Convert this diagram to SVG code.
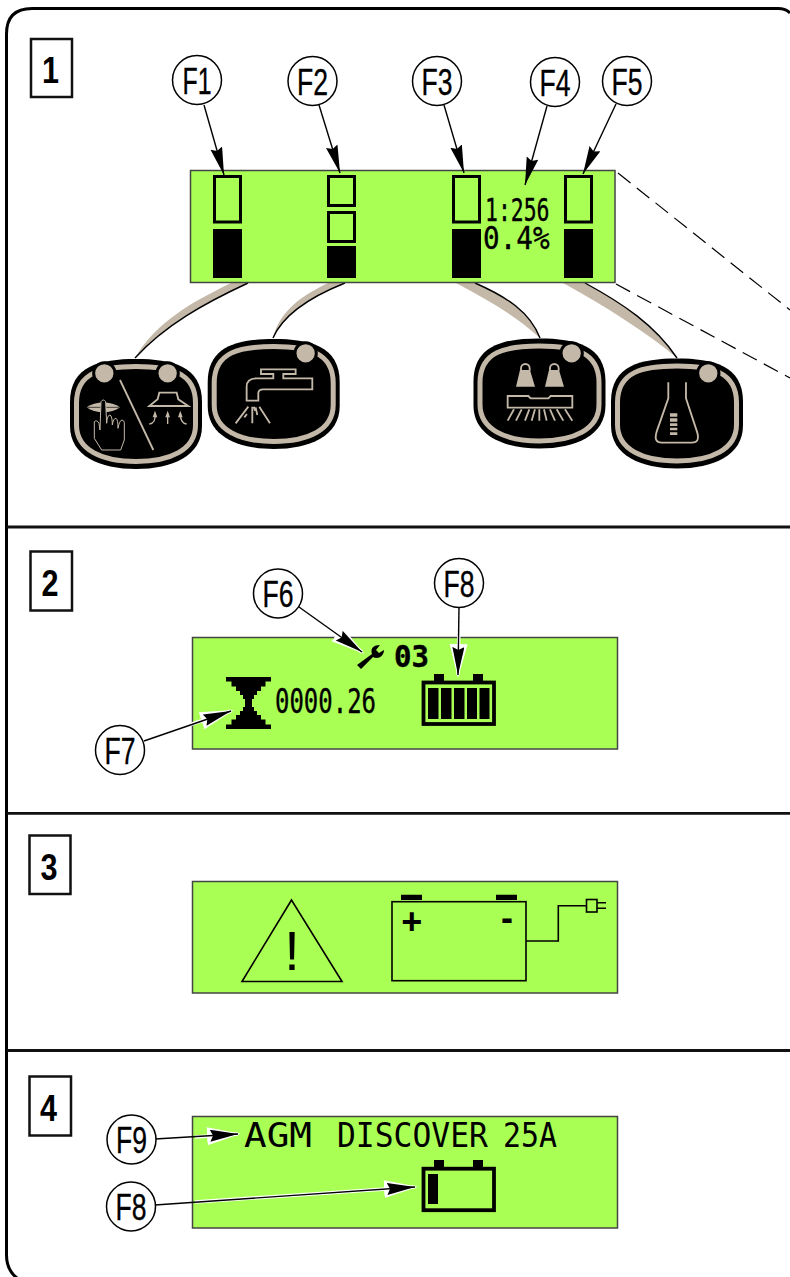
<svg xmlns="http://www.w3.org/2000/svg" width="790" height="1277" viewBox="0 0 790 1277">
<style>
.frame{fill:none;stroke:#000;stroke-width:3}
.div{stroke:#111;stroke-width:2.8}
.box{fill:#fff;stroke:#111;stroke-width:2.500}
.num{font:bold 37px "Liberation Sans",Arial,sans-serif;fill:#000;text-anchor:middle}
.lcd{fill:#aaff55;stroke:#444;stroke-width:1.5}
.badge{fill:#fff;stroke:#000;stroke-width:1.5}
.lab{font:37px "Liberation Sans",Arial,sans-serif;fill:#000;stroke:#000;stroke-width:.35;text-anchor:middle}
.ldr{fill:none;stroke:#000;stroke-width:1.4;marker-end:url(#ah)}
.halo{fill:none;stroke:#fff;stroke-width:3.5;marker-end:url(#ahw)}
.px{font-family:"DejaVu Sans Mono","Liberation Mono",monospace;fill:#000;stroke:#000;stroke-width:.4}
.thin{stroke-width:0}
.bar{fill:none;stroke:#000;stroke-width:3}
.batt{fill:none;stroke:#000;stroke-width:3.800}
.dash{fill:none;stroke:#000;stroke-width:1.2;stroke-dasharray:16 8}
.tail{fill:#c4b9a9}
.edge{fill:none;stroke:#000;stroke-width:1.4}
.bg{fill:#000}
.ring{fill:none;stroke:#c4b9a9;stroke-width:5}
.dot{fill:#c4b9a9;stroke:#000;stroke-width:9}
.ico{fill:none;stroke:#c4b9a9;stroke-width:5.500}
.ico4{fill:none;stroke:#c4b9a9;stroke-width:4}
.fil{fill:#c4b9a9}
.l3{fill:none;stroke:#000;stroke-width:1.6}
</style>
<defs>
<marker id="ah" markerUnits="userSpaceOnUse" markerWidth="30" markerHeight="14" refX="28" refY="6" orient="auto"><path d="M0 0L28 6L0 12L3 6Z" fill="#000"/></marker>
<marker id="ahw" markerUnits="userSpaceOnUse" markerWidth="38" markerHeight="20" refX="31" refY="9" orient="auto"><path d="M0 0L34 9L0 18Z" fill="#fff"/></marker>
<path id="outer" d="M0-55C36-55 66-48 66-12V12C66 42 36 55 0 55S-66 42-66 12V-12C-66-48-36-55 0-55Z"/>
<path id="inner" d="M0-47.500C34-47.500 59.500-42 59.500-11V11C59.500 36 34 47.500 0 47.500S-59.500 36-59.500 11V-11C-59.500-42-34-47.500 0-47.500Z"/>
</defs>

<g id="frame">
<path class="frame" d="M790 13Q786 8.500 778 8.500H32Q6.500 8.500 6.500 34V1255Q6.500 1270 17 1278"/>
<path class="div" d="M7 527H790M7 813.300H790M7 1050.500H790"/>
</g>

<g id="section-boxes">
<g id="box1"><rect class="box" x="31" y="39" width="41" height="58"/><text class="num" x="50.500" y="83" textLength="17" lengthAdjust="spacingAndGlyphs">1</text></g>
<g id="box2"><rect class="box" x="30.500" y="551.500" width="41.500" height="59"/><text class="num" x="50" y="596" textLength="17" lengthAdjust="spacingAndGlyphs">2</text></g>
<g id="box3"><rect class="box" x="29.500" y="835.500" width="41" height="58.500"/><text class="num" x="49" y="880" textLength="17" lengthAdjust="spacingAndGlyphs">3</text></g>
<g id="box4"><rect class="box" x="29.500" y="1076.500" width="41.500" height="59"/><text class="num" x="48.500" y="1121" textLength="17" lengthAdjust="spacingAndGlyphs">4</text></g>
</g>

<g id="tails">
<path class="tail" d="M231 283H248C205 303 165 325 135 358C156 322 192 302 231 283Z"/><path class="edge" d="M248 283C205 303 165 325 135 358"/>
<path class="tail" d="M328 283H345C320 293 285 310 273 338C280 310 303 295 328 283Z"/><path class="edge" d="M345 283C320 293 285 310 273 338"/>
<path class="tail" d="M456 283H475C507 297 530 312 540 338C516 316 488 300 456 283Z"/><path class="edge" d="M475 283C507 297 530 312 540 338"/>
<path class="tail" d="M563 283H585C622 303 655 325 677 358C646 332 608 308 563 283Z"/><path class="edge" d="M585 283C622 303 655 325 677 358"/>
</g>

<g id="lcd1">
<rect class="lcd" x="190.500" y="170.500" width="424.500" height="112"/>
<rect class="bar" x="214.500" y="176.500" width="26" height="45.500"/><rect x="213" y="229" width="29" height="49"/>
<rect class="bar" x="328.500" y="176.500" width="26" height="29"/><rect class="bar" x="328.500" y="212.500" width="26" height="29"/><rect x="327" y="246" width="29" height="32"/>
<rect class="bar" x="453.500" y="176.500" width="26" height="45.500"/><rect x="452" y="229" width="29" height="49"/>
<rect class="bar" x="565.500" y="176.500" width="26" height="45.500"/><rect x="564" y="229" width="29" height="49"/>
<text class="px" x="485" y="221" font-size="32" textLength="64.500" lengthAdjust="spacingAndGlyphs">1:256</text>
<text class="px" x="483" y="249" font-size="32" textLength="66.500" lengthAdjust="spacingAndGlyphs">0.4%</text>
</g>

<g id="lcd2">
<rect class="lcd" x="192.500" y="637.500" width="425" height="111.500"/>
<path id="wrench" d="M372 654C370 648 374 645 380 645L376 650L379 653L384 650C384 656 378 660 373 657L361 669L357 665Z"/>
<text class="px" x="394" y="667" font-size="30" font-weight="bold" textLength="35" lengthAdjust="spacingAndGlyphs">03</text>
<path id="hourglass" d="M226 677H271V681.500H265.500V686.500H261V691H257V695H254V699H252V707H254V711H257V715H261V719.500H265.500V724.500H271V729H226V724.500H231.500V719.500H236V715H240V711H243V707H245V699H243V695H240V691H236V686.500H231.500V681.500H226Z"/>
<text class="px" x="275" y="713" font-size="33" textLength="101" lengthAdjust="spacingAndGlyphs">0000.26</text>
<rect class="batt" x="423.500" y="682.500" width="70.500" height="41.500"/>
<path d="M434 674H444V682H434ZM473 674H483V682H473ZM428 688H438.500V719H428ZM441 688H451.500V719H441ZM454 688H464.500V719H454ZM467 688H477V719H467ZM479.500 688H489.500V719H479.500Z"/>
</g>

<g id="lcd3">
<rect class="lcd" x="192.500" y="881.500" width="425" height="111.500"/>
<path class="l3" d="M291.500 900L242 981.500H342Z"/>
<text x="292" y="969.500" font-family="Liberation Sans,Arial,sans-serif" font-size="56" text-anchor="middle">!</text>
<rect class="l3" x="392" y="901.700" width="134" height="79"/>
<path d="M401 894.700H422V900H401ZM496 894.700H517V900H496Z"/>
<text x="411.700" y="934" font-family="Liberation Sans,Arial,sans-serif" font-weight="bold" font-size="36" text-anchor="middle">+</text>
<text x="507" y="930" font-family="Liberation Sans,Arial,sans-serif" font-weight="bold" font-size="36" text-anchor="middle">-</text>
<path class="l3" d="M526 941H558.300V905.700H586"/>
<rect class="l3" x="586.500" y="899.500" width="10.500" height="12.500"/>
<path class="l3" d="M597 902.700H606M597 908.300H606"/>
</g>

<g id="lcd4">
<rect class="lcd" x="192.500" y="1116.500" width="425" height="111.500"/>
<text class="px thin" y="1147" font-size="33"><tspan x="244" textLength="68" lengthAdjust="spacingAndGlyphs">AGM</tspan> <tspan x="337" textLength="151" lengthAdjust="spacingAndGlyphs">DISCOVER</tspan> <tspan x="503" textLength="54" lengthAdjust="spacingAndGlyphs">25A</tspan></text>
<rect class="batt" x="423.500" y="1168.700" width="70.500" height="41.500"/>
<path d="M434 1160H444V1168H434ZM473 1160H483V1168H473ZM428 1174H438V1204H428Z"/>
</g>

<g id="key-a" transform="translate(136 414)"><use href="#outer" class="bg"/><use href="#inner" class="ring"/></g>
<g id="key-a-icon" transform="translate(0 300) scale(.3333)">
<circle class="dot" cx="313" cy="220" r="32"/><circle class="dot" cx="503" cy="220" r="32"/>
<path class="fil" d="M260 322C285 303 335 303 360 322C335 342 285 342 260 322Z"/>
<path d="M262 322H358" stroke="#000" stroke-width="2"/>
<path d="M283 365Q290 358 297 370L300 390L303 305Q310 295 317 305L320 370Q322 345 330 345Q337 348 337 375Q340 355 348 355Q354 358 354 385Q358 362 366 360Q373 362 373 368V420L362 450H305L283 415Z" fill="#000" stroke="#c4b9a9" stroke-width="3"/>
<path class="ico" d="M360 240L460 450"/>
<path class="ico" d="M478 278H530L535 298L565 318H448L473 298Z"/>
<path class="ico4" d="M503 372V340M448 372Q468 370 465 340M560 372Q540 370 541 340"/>
<path class="fil" d="M503 332L510 352H496ZM465 332L472 352H458ZM541 332L548 352H534Z"/>
</g>

<g id="key-b" transform="translate(273.700 394)"><use href="#outer" class="bg"/><use href="#inner" class="ring"/></g>
<g id="key-b-icon" transform="translate(0 300) scale(.3333)">
<circle class="dot" cx="917" cy="160" r="32"/>
<path class="ico" d="M740 302V260Q740 235 770 235H820V222H783V208H887V222H850V235H937V268H790Q775 268 775 280V302Z"/>
<path class="ico" d="M745 320L707 370M741 342L733 352M757 320V370M767 322L772 345M778 320L810 370M762 320L765 332"/>
</g>

<g id="key-c" transform="translate(539.500 393.500)"><use href="#outer" class="bg"/><use href="#inner" class="ring"/></g>
<g id="key-c-icon" transform="translate(440 270) scale(.3333)">
<circle class="dot" cx="395" cy="250" r="32"/>
<path class="fil" d="M240 300H270L285 350H228ZM327 300H357L372 350H315Z"/>
<path class="ico" d="M243 302V295A12 12 0 0 1 269 295V302M330 302V295A12 12 0 0 1 356 295V302"/>
<path class="ico" d="M203 378H265L272 385H325L332 378H397V413H203Z"/>
<path class="ico" d="M222 418L203 452M245 418L228 452M268 418L255 452M285 418L275 452M298 418V452M312 418L320 452M330 418L345 452M350 418L370 452M375 418L397 452"/>
</g>

<g id="key-d" transform="translate(677 413.500)"><use href="#outer" class="bg"/><use href="#inner" class="ring"/></g>
<g id="key-d-icon" transform="translate(440 270) scale(.3333)">
<circle class="dot" cx="805" cy="310" r="32"/>
<path class="ico" d="M685 337V385L650 485Q640 518 665 518H755Q782 518 771 485L738 385V337"/>
<path class="fil" d="M690 430H712V440H690ZM690 445H712V455H690ZM690 460H712V468H690ZM690 473H712V481H690ZM690 487H712V495H690Z"/>
</g>

<g id="connectors">
<path class="dash" d="M618 173L790 310"/>
<path class="dash" d="M616 284L790 378"/>
<path class="ldr" d="M204 105L224 175"/>
<path class="ldr" d="M319 105L340 173"/>
<path class="ldr" d="M444 105L464 173"/>
<path class="ldr" d="M547 106L525 185"/>
<path class="ldr" d="M616 104L583 174"/>
<path class="halo" d="M320 622L362 652"/><path class="ldr" d="M299 607L362 652"/>
<path class="halo" d="M165 733L231 711"/><path class="ldr" d="M144 741L231 711"/>
<path class="halo" d="M459 625L458 675"/><path class="ldr" d="M459 607L458 675"/>
<path class="halo" d="M195 1137L238 1134"/><path class="ldr" d="M155 1139L238 1134"/>
<path class="halo" d="M195 1202L415 1187"/><path class="ldr" d="M155 1205L415 1187"/>
</g>

<g id="F1"><circle class="badge" cx="197" cy="80" r="24.500"/><text class="lab" x="197" y="93.500" textLength="29" lengthAdjust="spacingAndGlyphs">F1</text></g>
<g id="F2"><circle class="badge" cx="312.500" cy="81" r="24.500"/><text class="lab" x="312.500" y="94.500" textLength="31" lengthAdjust="spacingAndGlyphs">F2</text></g>
<g id="F3"><circle class="badge" cx="437" cy="81" r="24.500"/><text class="lab" x="437" y="94.500" textLength="31" lengthAdjust="spacingAndGlyphs">F3</text></g>
<g id="F4"><circle class="badge" cx="555" cy="82" r="24.500"/><text class="lab" x="555" y="95.500" textLength="31" lengthAdjust="spacingAndGlyphs">F4</text></g>
<g id="F5"><circle class="badge" cx="627" cy="81" r="24.500"/><text class="lab" x="627" y="94.500" textLength="31" lengthAdjust="spacingAndGlyphs">F5</text></g>
<g id="F6"><circle class="badge" cx="278" cy="593.500" r="24.500"/><text class="lab" x="278" y="607" textLength="31" lengthAdjust="spacingAndGlyphs">F6</text></g>
<g id="F7"><circle class="badge" cx="120" cy="750" r="24.500"/><text class="lab" x="120" y="763.500" textLength="31" lengthAdjust="spacingAndGlyphs">F7</text></g>
<g id="F8-top"><circle class="badge" cx="459" cy="583" r="24.500"/><text class="lab" x="459" y="596.500" textLength="31" lengthAdjust="spacingAndGlyphs">F8</text></g>
<g id="F9"><circle class="badge" cx="131.500" cy="1139.500" r="24.500"/><text class="lab" x="131.500" y="1153" textLength="31" lengthAdjust="spacingAndGlyphs">F9</text></g>
<g id="F8-bottom"><circle class="badge" cx="131" cy="1206.500" r="24.500"/><text class="lab" x="131" y="1220" textLength="31" lengthAdjust="spacingAndGlyphs">F8</text></g>
</svg>
